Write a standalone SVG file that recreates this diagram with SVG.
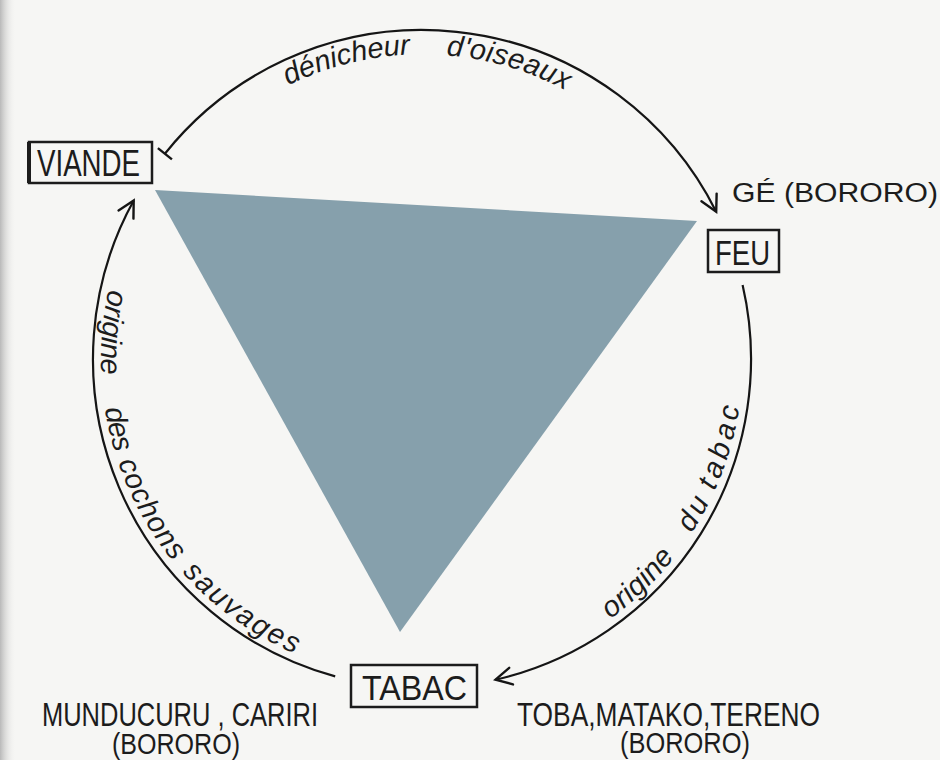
<svg xmlns="http://www.w3.org/2000/svg" width="940" height="760" viewBox="0 0 940 760">
<defs>
<style>
.lbl{font-family:"Liberation Sans",Arial,sans-serif;fill:#1c1c1c;}
.box{fill:none;stroke:#1c1c1c;stroke-width:2.5;}
.arc{fill:none;stroke:#151515;stroke-width:2.2;}
.cap{font-family:"Liberation Sans",Arial,sans-serif;font-style:italic;fill:#1c1c1c;}
</style>
<linearGradient id="edge" x1="0" y1="0" x2="1" y2="0">
<stop offset="0" stop-color="#b9b9b9"/>
<stop offset="1" stop-color="#f6f6f4" stop-opacity="0"/>
</linearGradient>
<marker id="arrow" markerUnits="userSpaceOnUse" markerWidth="40" markerHeight="40" viewBox="-20 -20 40 40" refX="0" refY="0" orient="auto" overflow="visible">
<path d="M-16,-8.5 L0,0 L-16,8.5" fill="none" stroke="#151515" stroke-width="2.4" stroke-linecap="round"/>
</marker>
<marker id="tick" markerUnits="userSpaceOnUse" markerWidth="30" markerHeight="30" viewBox="-15 -15 30 30" refX="0" refY="0" orient="auto" overflow="visible">
<path d="M0,-9 L0,9" fill="none" stroke="#151515" stroke-width="2.4"/>
</marker>
<path id="tpTop" d="M159.5,205 A304,304 0 0 1 684.5,205"/>
<path id="tpLeft" d="M111.9,275.9 A321,321 0 0 0 366.3,675.1"/>
<path id="tpRight" d="M582.5,637 A321,321 0 0 0 732.1,275.9"/>
</defs>
<rect width="940" height="760" fill="#f6f6f4"/>
<rect width="16" height="760" fill="url(#edge)"/>

<polygon id="triangle" points="155,190 697,221 400,632" fill="#86a0ac"/>

<g id="connectors">
<path class="arc" d="M164.9,153.7 A329,329 0 0 1 716.2,211.7" marker-start="url(#tick)" marker-end="url(#arrow)"/>
<path class="arc" d="M742.6,285 A329,329 0 0 1 495.5,679.7" marker-end="url(#arrow)"/>
<path class="arc" d="M335.2,676.4 A329,329 0 0 1 133.7,200.5" marker-end="url(#arrow)"/>
<text class="cap" font-size="29"><textPath href="#tpTop" startOffset="178" textLength="127" lengthAdjust="spacing">dénicheur</textPath></text>
<text class="cap" font-size="29"><textPath href="#tpTop" startOffset="341" textLength="125" lengthAdjust="spacing">d'oiseaux</textPath></text>
<text class="cap" font-size="29"><textPath href="#tpLeft" startOffset="14" textLength="86" lengthAdjust="spacing">origine</textPath></text>
<text class="cap" font-size="29"><textPath href="#tpLeft" startOffset="134" textLength="45" lengthAdjust="spacing">des</textPath></text>
<text class="cap" font-size="29"><textPath href="#tpLeft" startOffset="189" textLength="114" lengthAdjust="spacing">cochons</textPath></text>
<text class="cap" font-size="29"><textPath href="#tpLeft" startOffset="317" textLength="140" lengthAdjust="spacing">sauvages</textPath></text>
<text class="cap" font-size="29"><textPath href="#tpRight" startOffset="33" textLength="90" lengthAdjust="spacing">origine</textPath></text>
<text class="cap" font-size="29"><textPath href="#tpRight" startOffset="152" textLength="36" lengthAdjust="spacing">du</textPath></text>
<text class="cap" font-size="29"><textPath href="#tpRight" startOffset="200" textLength="88" lengthAdjust="spacing">tabac</textPath></text>
</g>

<g id="viande">
<rect class="box" x="29" y="142" width="123" height="41"/>
<line x1="29" y1="142" x2="29" y2="183" stroke="#1c1c1c" stroke-width="4"/>
<text class="lbl" x="37" y="176" font-size="36" textLength="103" lengthAdjust="spacingAndGlyphs">VIANDE</text>
</g>

<g id="feu">
<rect class="box" x="708" y="230" width="71" height="42"/>
<text class="lbl" x="715" y="265" font-size="35" textLength="55" lengthAdjust="spacingAndGlyphs">FEU</text>
<text class="lbl" x="732" y="202" font-size="27" textLength="206" lengthAdjust="spacingAndGlyphs">GÉ (BORORO)</text>
</g>

<g id="tabac">
<rect class="box" x="351" y="665" width="126" height="42"/>
<text class="lbl" x="362" y="700" font-size="35" textLength="105" lengthAdjust="spacingAndGlyphs">TABAC</text>
<text class="lbl" x="42" y="726" font-size="33" textLength="276" lengthAdjust="spacingAndGlyphs">MUNDUCURU , CARIRI</text>
<text class="lbl" x="112" y="754" font-size="30" textLength="128" lengthAdjust="spacingAndGlyphs">(BORORO)</text>
<text class="lbl" x="517" y="726" font-size="33" textLength="303" lengthAdjust="spacingAndGlyphs">TOBA,MATAKO,TERENO</text>
<text class="lbl" x="620" y="753" font-size="30" textLength="130" lengthAdjust="spacingAndGlyphs">(BORORO)</text>
</g>
</svg>
